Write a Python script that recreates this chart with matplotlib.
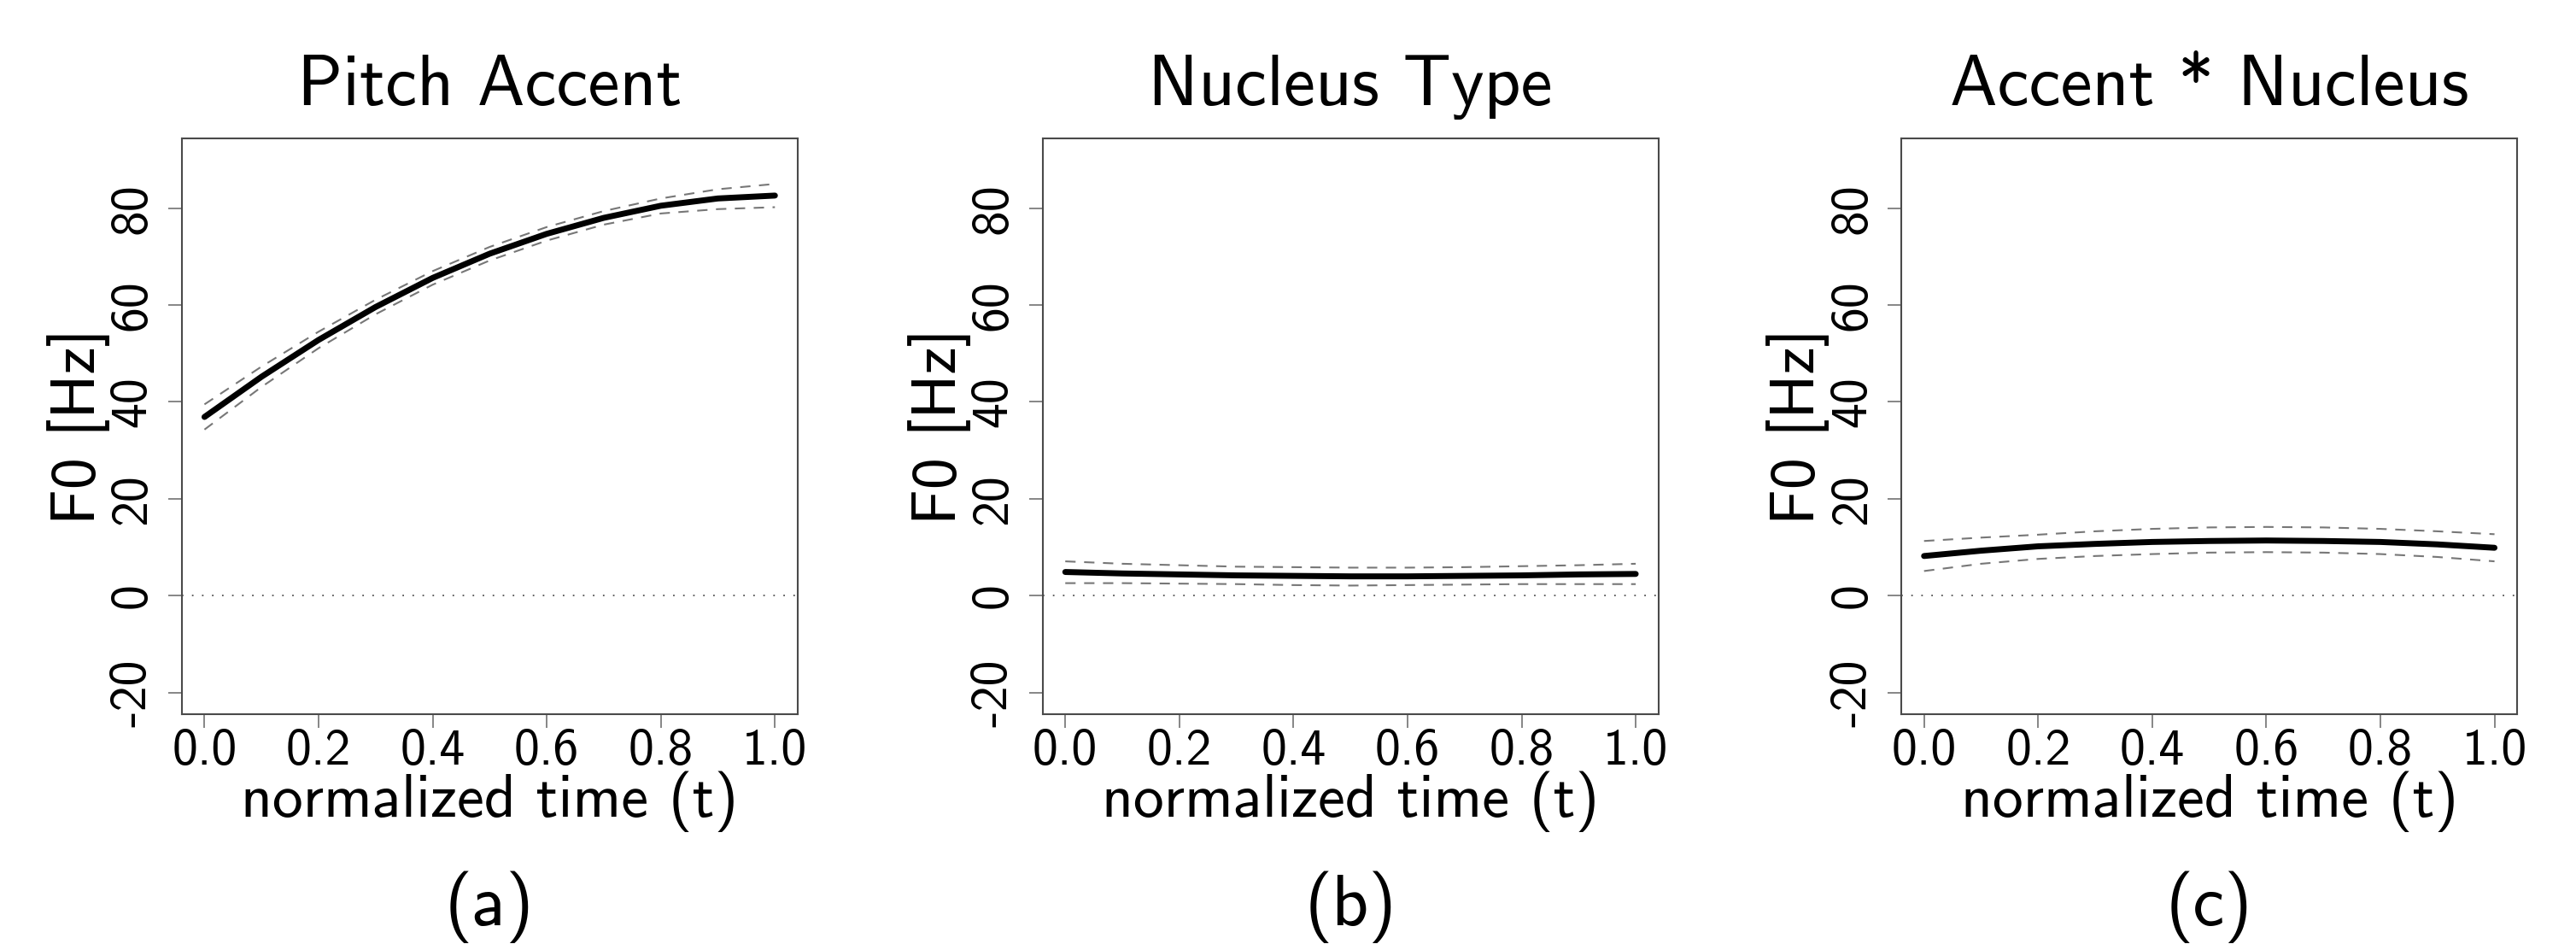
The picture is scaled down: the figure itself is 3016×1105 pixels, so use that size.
import matplotlib
matplotlib.use('Agg')
from matplotlib import pyplot as plt

plt.rcParams['font.family'] = 'cmss10'
plt.rcParams['axes.unicode_minus'] = False

# normalized time grid
t = [0.0, 0.1, 0.2, 0.3, 0.4, 0.5, 0.6, 0.7, 0.8, 0.9, 1.0]

# (a) Pitch Accent
accent_fit = [36.9, 45.2, 52.8, 59.6, 65.6, 70.6, 74.7, 78.0, 80.5, 82.0, 82.6]
accent_upper = [39.5, 47.3, 54.5, 61.1, 67.0, 72.0, 76.1, 79.4, 82.0, 83.9, 85.0]
accent_lower = [34.3, 43.1, 51.1, 58.1, 64.2, 69.2, 73.3, 76.6, 78.9, 79.8, 80.2]

# (b) Nucleus Type
nucleus_fit = [4.9, 4.6, 4.4, 4.2, 4.1, 4.0, 4.0, 4.1, 4.2, 4.4, 4.5]
nucleus_upper = [7.1, 6.6, 6.3, 6.0, 5.9, 5.8, 5.8, 5.9, 6.1, 6.3, 6.6]
nucleus_lower = [2.6, 2.6, 2.5, 2.4, 2.2, 2.1, 2.2, 2.3, 2.4, 2.4, 2.4]

# (c) Accent * Nucleus
inter_fit = [8.2, 9.3, 10.2, 10.7, 11.1, 11.3, 11.4, 11.3, 11.1, 10.6, 9.9]
inter_upper = [11.3, 12.0, 12.6, 13.3, 13.8, 14.1, 14.2, 14.1, 13.8, 13.3, 12.7]
inter_lower = [5.1, 6.6, 7.6, 8.2, 8.6, 8.9, 9.0, 8.9, 8.6, 8.0, 7.1]

titles = ['Pitch Accent', 'Nucleus Type', 'Accent * Nucleus']
panel_labels = ['(a)', '(b)', '(c)']
xticks = [0.0, 0.2, 0.4, 0.6, 0.8, 1.0]
xtick_labels = ['0.0', '0.2', '0.4', '0.6', '0.8', '1.0']
yticks = [-20, 0, 20, 40, 60, 80]
ytick_labels = ['-20', '0', '20', '40', '60', '80']

panels = [(accent_fit, accent_upper, accent_lower),
          (nucleus_fit, nucleus_upper, nucleus_lower),
          (inter_fit, inter_upper, inter_lower)]

fig = plt.figure(figsize=(30.16, 11.05), dpi=100)
lefts = [0.07052, 0.40468, 0.73806]
frame_c = '#4a4a4a'
tick_c = '#666666'
dash_c = '#777777'

for i, (fit, up, lo) in enumerate(panels):
    ax = fig.add_axes([lefts[i], 0.2437, 0.23916, 0.6097])
    ax.axhline(0, color='#555555', lw=1.3, dashes=(1.0, 5.5))
    ax.plot(t, up, color=dash_c, lw=1.5, dashes=(5.8, 4.8))
    ax.plot(t, lo, color=dash_c, lw=1.5, dashes=(5.8, 4.8))
    ax.plot(t, fit, color='black', lw=5, solid_capstyle='round')

    ax.set_xlim(-0.04, 1.04)
    ax.set_ylim(-24.4, 94.4)
    ax.set_xticks(xticks)
    ax.set_xticklabels(xtick_labels, fontsize=43)
    ax.set_yticks(yticks)
    ax.set_yticklabels(ytick_labels, fontsize=43, rotation=90, va='center')
    ax.tick_params(axis='both', direction='out', length=11.5, width=1.1, color=tick_c)
    ax.tick_params(axis='x', pad=1)
    ax.tick_params(axis='y', pad=10)
    for s in ax.spines.values():
        s.set_color(frame_c)
        s.set_linewidth(1.5)

    ax.set_title(titles[i], fontsize=60, pad=28)
    ax.text(0.5, -0.1786, 'normalized time (t)', transform=ax.transAxes,
            ha='center', va='baseline', fontsize=51.5)
    ax.text(-0.1414, 0.5, 'F0 [Hz]', transform=ax.transAxes, rotation=90,
            rotation_mode='anchor', ha='center', va='baseline', fontsize=53)
    ax.text(0.5, -0.367, panel_labels[i], transform=ax.transAxes,
            ha='center', va='baseline', fontsize=60)

fig.savefig('out.png', dpi=100)
